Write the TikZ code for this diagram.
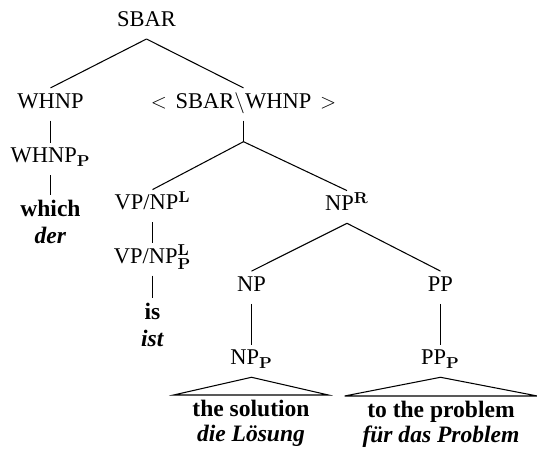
\documentclass[tikz,border=0pt]{standalone}
\usepackage[no-math]{fontspec}
\setmainfont{Liberation Serif}

\begin{document}
\begin{tikzpicture}[scale=0.2]
		\tikzstyle{every node}+=[inner sep=0pt, font=\fontsize{12.8}{14}\selectfont]
		\tikzstyle{cat}=[anchor=base, text height=11.4pt, text depth=6.8pt]
		\tikzstyle{leaf}=[anchor=north, align=center, inner ysep=2.8pt, font=\fontsize{13.4}{14}\selectfont\bfseries]
		\tikzstyle{edge}=[black, line width=0.6pt]
		\useasboundingbox (0,0) rectangle (53.7,-45.3);
		\node [cat] (sbar) at (14.65,-2.67) {SBAR};
		\node [cat] (whnp) at (5.05,-10.83) {WHNP};
		\node [cat] (rest) at (24.35,-10.83) {$<$\hspace{5pt}SBAR$\backslash$WHNP\hspace{5pt}$>$};
		\coordinate (fork) at (24.35,-14.17);
		\node [cat] (whnpp) at (5.05,-16.3) {WHNP$_{\mathbf{P}}$};
		\node [leaf] (which) at (5.05,-19.5) {which\\[1.5pt]\textit{der}};
		\node [cat] (vpnpl) at (15.25,-21) {VP/NP$^{\mathbf{L}}$};
		\node [cat] (vpnplp) at (15.25,-26.33) {VP/NP$^{\mathbf{L}}_{\mathbf{P}}$};
		\node [leaf] (is) at (15.25,-29.83) {is\\[1pt]\textit{ist}};
		\node [cat] (npr) at (34.7,-21.1) {NP$^{\mathbf{R}}$};
		\node [cat] (np) at (25.15,-29.15) {NP};
		\node [cat] (pp) at (44.05,-29.15) {PP};
		\node [cat] (npp) at (25.15,-36.5) {NP$_{\mathbf{P}}$};
		\node [cat] (ppp) at (44.05,-36.5) {PP$_{\mathbf{P}}$};
		\node [leaf, minimum width=3.08cm] (soln) at (25.1,-39.5) {the solution\\\textit{die Lösung}};
		\node [leaf, minimum width=3.84cm] (prob) at (44.1,-39.6) {to the problem\\\textit{für das Problem}};
		\draw [edge] (sbar.south) -- (whnp.north);
		\draw [edge] (sbar.south) -- (rest.north);
		\draw [edge] (whnp.south) -- (whnpp.north);
		\draw [edge] (whnpp.south) -- (which.north);
		\draw [edge] (rest.south) -- (fork);
		\draw [edge] (fork) -- (vpnpl.north);
		\draw [edge] (fork) -- (npr.north);
		\draw [edge] (vpnpl.south) -- (vpnplp.north);
		\draw [edge] (vpnplp.south) -- (is.north);
		\draw [edge] (npr.south) -- (np.north);
		\draw [edge] (npr.south) -- (pp.north);
		\draw [edge] (np.south) -- (npp.north);
		\draw [edge] (pp.south) -- (ppp.north);
		\draw [edge] (npp.south) -- (soln.north west) -- (soln.north east) -- cycle;
		\draw [edge] (ppp.south) -- (prob.north west) -- (prob.north east) -- cycle;
	\end{tikzpicture}
\end{document}
